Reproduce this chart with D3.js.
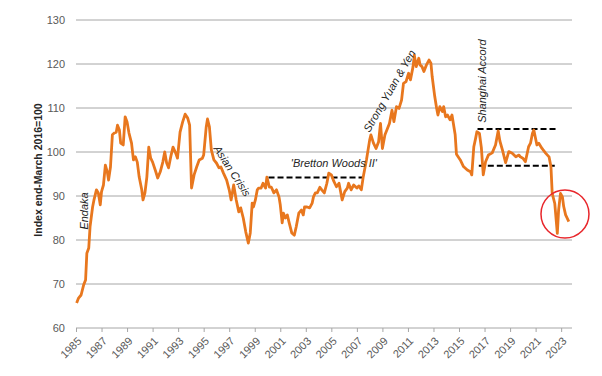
<!DOCTYPE html>
<html lang="en">
<head>
<meta charset="UTF-8">
<title>Index end-March 2016=100</title>
<script src="https://cdnjs.cloudflare.com/ajax/libs/d3/7.8.5/d3.min.js"></script>
<style>
    body { margin: 0; background: #fff; }
    svg text { font-family: "Liberation Sans", Arial, sans-serif; }
    .tick-label { font-size: 11px; fill: #595959; }
    .note { font-size: 11px; font-style: italic; fill: #262626; }
</style>
</head>
<body>
<svg id="chart" width="602" height="376"></svg>
<script>
// decimal year of each reading
var years = [
    1985.05, 1985.2, 1985.4, 1985.6, 1985.75, 1985.85, 1986.0, 1986.1, 1986.3, 1986.4,
    1986.6, 1986.75, 1986.9, 1987.0, 1987.15, 1987.3, 1987.45, 1987.55, 1987.7, 1987.85,
    1988.0, 1988.15, 1988.25, 1988.4, 1988.5, 1988.7, 1988.85, 1989.0, 1989.15, 1989.35,
    1989.5, 1989.65, 1989.8, 1989.95, 1990.15, 1990.25, 1990.4, 1990.55, 1990.7, 1990.85,
    1991.0, 1991.25, 1991.4, 1991.6, 1991.8, 1991.95, 1992.1, 1992.25, 1992.45, 1992.6,
    1992.8, 1992.95, 1993.15, 1993.35, 1993.55, 1993.75, 1993.9, 1994.05, 1994.25, 1994.45,
    1994.65, 1994.9, 1995.0, 1995.2, 1995.3, 1995.45, 1995.6, 1995.8, 1996.0, 1996.2,
    1996.35, 1996.55, 1996.8, 1997.0, 1997.15, 1997.35, 1997.55, 1997.75, 1997.9, 1998.1,
    1998.3, 1998.5, 1998.65, 1998.8, 1998.9, 1999.05, 1999.2, 1999.3, 1999.5, 1999.65,
    1999.85, 1999.95, 2000.15, 2000.3, 2000.5, 2000.7, 2000.9, 2001.0, 2001.15, 2001.25,
    2001.4, 2001.55, 2001.7, 2001.9, 2002.1, 2002.25, 2002.45, 2002.65, 2002.8, 2002.9,
    2003.1, 2003.3, 2003.5, 2003.6, 2003.75, 2003.9, 2004.1, 2004.25, 2004.45, 2004.65,
    2004.8, 2005.0, 2005.2, 2005.4, 2005.6, 2005.85, 2006.05, 2006.25, 2006.35, 2006.55,
    2006.75, 2007.0, 2007.15, 2007.35, 2007.5, 2007.75, 2008.0, 2008.1, 2008.3, 2008.5,
    2008.7, 2008.85, 2009.0, 2009.2, 2009.35, 2009.55, 2009.75, 2009.9, 2010.1, 2010.3,
    2010.5, 2010.65, 2010.85, 2011.05, 2011.2, 2011.4, 2011.5, 2011.65, 2011.85, 2011.95,
    2012.1, 2012.25, 2012.45, 2012.65, 2012.8, 2012.9, 2013.1, 2013.25, 2013.35, 2013.5,
    2013.7, 2013.8, 2013.95, 2014.1, 2014.3, 2014.45, 2014.7, 2014.8, 2015.1, 2015.35,
    2015.65, 2015.9, 2016.0, 2016.16, 2016.3, 2016.4, 2016.6, 2016.75, 2016.9, 2017.08,
    2017.3, 2017.6, 2017.86, 2018.07, 2018.2, 2018.4, 2018.65, 2018.9, 2019.17, 2019.45,
    2019.7, 2019.8, 2020.0, 2020.2, 2020.45, 2020.6, 2020.75, 2020.86, 2021.1, 2021.25,
    2021.5, 2021.8, 2022.05, 2022.2, 2022.3, 2022.5, 2022.7, 2022.8, 2022.95, 2023.1,
    2023.2, 2023.35, 2023.6
];

var index = [
    65.7, 66.8, 67.5, 69.8, 70.9, 77, 78.2, 83, 87.5, 89,
    91.4, 90.7, 88, 91, 92.5, 97, 95.5, 93.6, 96.6, 103.9,
    104.3, 104.5, 106.1, 105, 102, 101.6, 108, 106.8, 104.3, 102,
    98.2, 98.9, 97.7, 94.3, 91.4, 89.1, 90.7, 94.3, 101.1, 98.6,
    97.7, 95.5, 94.1, 95.5, 97.7, 100, 97.5, 96.4, 99.3, 101.1,
    99.8, 98.6, 104.5, 106.8, 108.6, 107.7, 106.1, 91.8, 94.8, 96.6,
    98.2, 98.6, 99.3, 105.7, 107.5, 105.7, 100.5, 98.2, 97.5, 96.4,
    96.6, 95.2, 93.6, 91.4, 89.1, 92.5, 89.1, 86.4, 87.3, 85,
    81.8, 79.3, 81.6, 88.4, 87.5, 89.1, 91.4, 91.8, 91.8, 92.9,
    91.8, 94.3, 92, 92, 90.7, 91.4, 89.8, 88, 83.9, 86.1,
    85, 85.7, 83.9, 81.6, 81.1, 83, 86.1, 86.8, 85.7, 87.5,
    87.5, 87.3, 88.4, 89.8, 90.7, 90.7, 92, 91.4, 90.7, 92.9,
    95.2, 94.8, 93.3, 92.1, 92.9, 89.1, 91, 91.8, 92.9, 91.4,
    92.5, 91.8, 92.3, 91.4, 94.4, 98.2, 102.7, 103.9, 102, 100.8,
    102.3, 106.5, 100.8, 103.9, 105, 106.5, 109.5, 106.9, 110.3, 109.9,
    111.8, 115.6, 116, 117.9, 116.4, 119.4, 122, 119.4, 121.3, 119.8,
    119.4, 118.3, 119.8, 120.9, 120.2, 117.1, 112.6, 109.9, 108.4, 110.3,
    109.2, 110.3, 108, 108.4, 107.3, 108.4, 103.9, 99.5, 98.2, 96.7,
    95.9, 95.5, 94.8, 101.2, 103.1, 104.6, 104.2, 101, 94.8, 97.8,
    99.3, 99.8, 101.6, 104.8, 102.5, 100.5, 97.6, 100.1, 99.7, 98.9,
    99.3, 98.9, 98.6, 97.8, 101.2, 102, 104.2, 105, 101.6, 102,
    100.8, 99.7, 98.9, 96.7, 90.6, 88.3, 81.5, 86.8, 90.6, 89.8,
    87.6, 85.7, 84.2
];

var yTicks = [60, 70, 80, 90, 100, 110, 120, 130];
var xTicks = [1985, 1987, 1989, 1991, 1993, 1995, 1997, 1999, 2001, 2003,
              2005, 2007, 2009, 2011, 2013, 2015, 2017, 2019, 2021, 2023];

// dashed reference levels: [from, to, level]
var rangeLines = [
    [2000.08, 2007.53, 94.2],
    [2016.45, 2022.76, 105.2],
    [2016.55, 2022.5, 96.9]
];

var notes = [
    { text: "Endaka", x: 1985.63, y: 86.6, angle: -90 },
    { text: "Asian Crisis", x: 1997.24, y: 95.7, angle: 57 },
    { text: "'Bretton Woods II'", x: 2005.2, y: 97.4, angle: 0 },
    { text: "Strong Yuan & Yen", x: 2009.55, y: 113.9, angle: -60 },
    { text: "Shanghai Accord", x: 2016.8, y: 116.1, angle: -90 }
];

var svg = d3.select("#chart");
var mLeft = 76, mRight = 572, mTop = 20, mBottom = 328;

var x = d3.scaleLinear().domain([1985, 2023.85]).range([mLeft, mRight]);
var y = d3.scaleLinear().domain([60, 130]).range([mBottom, mTop]);

// horizontal grid lines (no vertical axis line)
svg.append("g")
    .selectAll("line")
    .data(yTicks.filter(function(d){ return d > 60; }))
    .join("line")
        .attr("x1", mLeft).attr("x2", mRight)
        .attr("y1", function(d){ return y(d); })
        .attr("y2", function(d){ return y(d); })
        .attr("stroke", "#a6a6a6")
        .attr("stroke-width", 1);

svg.append("g")
    .selectAll("text")
    .data(yTicks)
    .join("text")
        .attr("class", "tick-label")
        .attr("x", 65)
        .attr("y", function(d){ return y(d); })
        .attr("dy", "0.35em")
        .attr("text-anchor", "end")
        .text(function(d){ return d; });

// bottom axis
var xAxis = svg.append("g")
    .attr("transform", "translate(0," + mBottom + ")")
    .call(d3.axisBottom(x).tickValues(xTicks).tickSize(4).tickFormat(d3.format("d")));
xAxis.select(".domain").attr("stroke", "#a6a6a6").attr("d", "M" + mLeft + ",0H" + mRight);
xAxis.selectAll(".tick line").attr("stroke", "#a6a6a6");
xAxis.selectAll(".tick text")
    .attr("class", "tick-label")
    .attr("text-anchor", "end")
    .attr("x", 0).attr("y", 0).attr("dy", "0.35em")
    .attr("transform", "translate(3,11) rotate(-45)");

svg.append("text")
    .attr("transform", "translate(38,170) rotate(-90)")
    .attr("text-anchor", "middle")
    .attr("dy", "0.35em")
    .style("font-size", "10.5px")
    .style("font-weight", "bold")
    .style("fill", "#262626")
    .text("Index end-March 2016=100");

// dashed ranges
svg.append("g")
    .selectAll("line")
    .data(rangeLines)
    .join("line")
        .attr("x1", function(d){ return x(d[0]); })
        .attr("x2", function(d){ return x(d[1]); })
        .attr("y1", function(d){ return y(d[2]); })
        .attr("y2", function(d){ return y(d[2]); })
        .attr("stroke", "#000")
        .attr("stroke-width", 2)
        .attr("stroke-dasharray", "6,3");

var line = d3.line()
    .x(function(d, i){ return x(years[i]); })
    .y(function(d){ return y(d); });

svg.append("path")
    .datum(index)
    .attr("d", line)
    .attr("fill", "none")
    .attr("stroke", "#e8771e")
    .attr("stroke-width", 2.8)
    .attr("stroke-linejoin", "round");

svg.append("g")
    .selectAll("text")
    .data(notes)
    .join("text")
        .attr("class", "note")
        .attr("text-anchor", "middle")
        .attr("dy", "0.35em")
        .attr("transform", function(d){
            return "translate(" + x(d.x) + "," + y(d.y) + ") rotate(" + d.angle + ")";
        })
        .text(function(d){ return d.text; });

// red ring round the latest fall
svg.append("circle")
    .attr("cx", x(2023.3))
    .attr("cy", y(85.9))
    .attr("r", 24)
    .attr("fill", "none")
    .attr("stroke", "#e8262b")
    .attr("stroke-width", 1.5);
</script>
</body>
</html>
